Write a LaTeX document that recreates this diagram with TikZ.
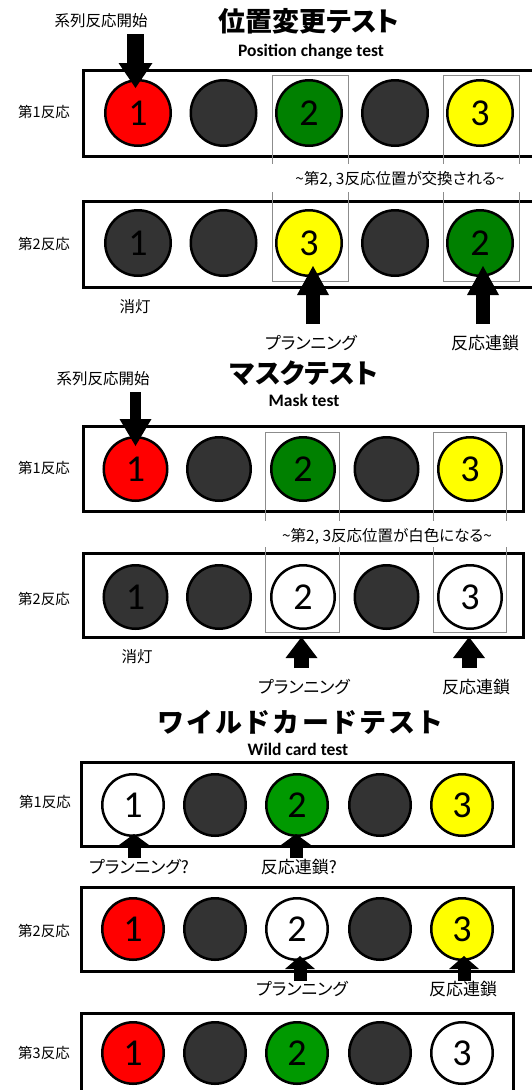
\documentclass[tikz,border=0pt]{standalone}
\usepackage{fontspec}
\usetikzlibrary{arrows.meta}
\newfontfamily\jpfont[RawFeature=+palt]{Noto Sans CJK JP}
\newfontfamily\jpwide[RawFeature=+palt,LetterSpace=15]{Noto Sans CJK JP}
\newfontfamily\numfont{Carlito}
\definecolor{lampdark}{HTML}{333333}
\definecolor{lampgreen}{HTML}{008000}
\definecolor{lampgreenb}{HTML}{009900}
\definecolor{lampyellow}{HTML}{FFFF00}
\definecolor{lampred}{HTML}{FF0000}
\definecolor{guidegrey}{HTML}{8C8C8C}
\begin{document}
\begin{tikzpicture}[x=1pt,y=-1pt,
  lamp/.style={circle, draw=black, line width=2.5pt, inner sep=0pt, minimum size=#1,
    font=\numfont\fontsize{38}{38}\selectfont},
  rowbox/.style={draw=black, line width=3pt},
  guide/.style={draw=guidegrey, line width=1pt},
  title/.style={font=\jpfont\bfseries\fontsize{27}{27}\selectfont},
  widetitle/.style={font=\jpwide\bfseries\fontsize{27}{27}\selectfont},
  subtitle/.style={font=\numfont\bfseries\fontsize{17.5}{17.5}\selectfont},
  rowlabel/.style={font=\jpfont\fontsize{14.5}{14.5}\selectfont},
  note/.style={font=\jpfont\fontsize{15.5}{15.5}\selectfont},
  pointer/.style={font=\jpfont\fontsize{17}{17}\selectfont},
  blockarrow/.style n args={3}{line width=#1, -{Triangle[width=#2, length=#3, line width=0pt]}}
]
\useasboundingbox (0,0) rectangle (531,1090);
\fill[white] (0,0) rectangle (531,1090);

%% ================= Section 1: position change =================
\node[title] (t1) at (309,21) {位置変更テスト};
\node[subtitle] (st1) at (311,52) {Position change test};
\node[note] (start1) at (101,21) {系列反応開始};
\node[rowlabel] (l11) at (44,112) {第1反応};
\node[rowlabel] (l12) at (44,244) {第2反応};
\draw[rowbox] (83,70) rectangle (545,156);
\draw[rowbox] (83,201) rectangle (545,287);
\draw[guide] (272,75) rectangle (348,281);
\draw[guide] (443,75) rectangle (519,281);
\fill[white] (262,164) rectangle (531,192);
\node[note] (n1) at (400,179) {\textasciitilde 第2, 3反応位置が交換される\textasciitilde};
\foreach \i/\x/\c/\t in {1/138/lampred/1, 2/223.5/lampdark/, 3/309/lampgreen/2, 4/395/lampdark/, 5/480/lampyellow/3}
  \node[lamp=65.5pt, fill=\c] (a1c\i) at (\x,113) {\t};
\foreach \i/\x/\c/\t in {1/138/lampdark/1, 2/223.5/lampdark/, 3/309/lampyellow/3, 4/395/lampdark/, 5/480/lampgreen/2}
  \node[lamp=65.5pt, fill=\c] (a2c\i) at (\x,243) {\t};
\node[note] (off1) at (135,307) {消灯};
\coordinate (s1d0) at (135.5,34);
\coordinate (s1d1) at (135.5,88);
\draw[blockarrow={17pt}{34pt}{25pt}] (s1d0) -- (s1d1);
\coordinate (s1u0) at (313,324);
\coordinate (s1u1) at (313,266);
\coordinate (s1v0) at (483,324);
\coordinate (s1v1) at (483,266);
\draw[blockarrow={14pt}{32pt}{29pt}] (s1u0) -- (s1u1);
\draw[blockarrow={14pt}{32pt}{29pt}] (s1v0) -- (s1v1);
\node[pointer] (p1) at (311,343) {プランニング};
\node[pointer] (c1) at (485,343) {反応連鎖};

%% ================= Section 2: mask =================
\node[title] (t2) at (304,373) {マスクテスト};
\node[subtitle] (st2) at (304,400) {Mask test};
\node[note] (start2) at (103,379) {系列反応開始};
\node[rowlabel] (l21) at (44,468) {第1反応};
\node[rowlabel] (l22) at (44,599) {第2反応};
\draw[rowbox] (83,426) rectangle (523,511);
\draw[rowbox] (83,553) rectangle (523,637);
\draw[guide] (265,432) rectangle (339,632);
\draw[guide] (433,432) rectangle (506,632);
\fill[white] (255,521) rectangle (518,547);
\node[note] (n2) at (387,536) {\textasciitilde 第2, 3反応位置が白色になる\textasciitilde};
\foreach \i/\x/\c/\t in {1/135.5/lampred/1, 2/219/lampdark/, 3/303/lampgreen/2, 4/386.5/lampdark/, 5/470/lampyellow/3}
  \node[lamp=63.5pt, fill=\c] (b1c\i) at (\x,469) {\t};
\foreach \i/\x/\c/\t in {1/135.5/lampdark/1, 2/219/lampdark/, 3/303/white/2, 4/386.5/lampdark/, 5/470/white/3}
  \node[lamp=63.5pt, fill=\c] (b2c\i) at (\x,597) {\t};
\node[note] (off2) at (137,657) {消灯};
\coordinate (s2d0) at (135.5,392);
\coordinate (s2d1) at (135.5,446);
\draw[blockarrow={11pt}{32pt}{27pt}] (s2d0) -- (s2d1);
\coordinate (s2u0) at (301.5,668);
\coordinate (s2u1) at (301.5,637);
\coordinate (s2v0) at (469,668);
\coordinate (s2v1) at (469,637);
\draw[blockarrow={15pt}{32pt}{21pt}] (s2u0) -- (s2u1);
\draw[blockarrow={15pt}{32pt}{21pt}] (s2v0) -- (s2v1);
\node[pointer] (p2) at (304,687) {プランニング};
\node[pointer] (c2) at (476,687) {反応連鎖};

%% ================= Section 3: wild card =================
\node[widetitle] (t3) at (300,722) {ワイルドカードテスト};
\node[subtitle] (st3) at (298,749) {Wild card test};
\node[rowlabel] (l31) at (45,802) {第1反応};
\node[rowlabel] (l32) at (44,931) {第2反応};
\node[rowlabel] (l33) at (44,1053) {第3反応};
\draw[rowbox] (81,762) rectangle (513,846);
\draw[rowbox] (81,887) rectangle (513,971);
\draw[rowbox] (81,1013) rectangle (513,1100);
\foreach \i/\x/\c/\t in {1/133/white/1, 2/215/lampdark/, 3/297/lampgreenb/2, 4/380/lampdark/, 5/462/lampyellow/3}
  \node[lamp=61.5pt, fill=\c] (c1c\i) at (\x,805) {\t};
\foreach \i/\x/\c/\t in {1/133/lampred/1, 2/215/lampdark/, 3/297/white/2, 4/380/lampdark/, 5/462/lampyellow/3}
  \node[lamp=61.5pt, fill=\c] (c2c\i) at (\x,929) {\t};
\foreach \i/\x/\c/\t in {1/133/lampred/1, 2/215/lampdark/, 3/297/lampgreenb/2, 4/380/lampdark/, 5/462/white/3}
  \node[lamp=61.5pt, fill=\c] (c3c\i) at (\x,1053) {\t};
\coordinate (s3u0) at (134,858);
\coordinate (s3u1) at (134,834);
\coordinate (s3v0) at (296,858);
\coordinate (s3v1) at (296,834);
\draw[blockarrow={13pt}{30pt}{11pt}] (s3u0) -- (s3u1);
\draw[blockarrow={13pt}{30pt}{11pt}] (s3v0) -- (s3v1);
\node[pointer] (p3) at (139,867) {プランニング?};
\node[pointer] (c3) at (299,867) {反応連鎖?};
\coordinate (s3w0) at (300,981);
\coordinate (s3w1) at (300,956);
\coordinate (s3x0) at (464,981);
\coordinate (s3x1) at (464,956);
\draw[blockarrow={13pt}{30pt}{13pt}] (s3w0) -- (s3w1);
\draw[blockarrow={13pt}{30pt}{13pt}] (s3x0) -- (s3x1);
\node[pointer] (p4) at (302,989) {プランニング};
\node[pointer] (c4) at (463,989) {反応連鎖};
\end{tikzpicture}
\end{document}
